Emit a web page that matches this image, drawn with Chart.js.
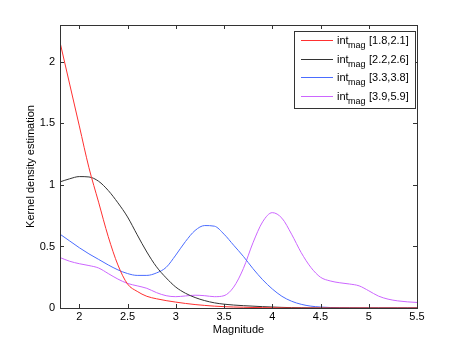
<!DOCTYPE html>
<html>
<head>
<meta charset="utf-8">
<script src="https://cdn.jsdelivr.net/npm/chart.js@4"></script>
<style>
  html, body { margin: 0; padding: 0; background: #fff; }
</style>
</head>
<body>
<canvas id="kde" width="460" height="346"></canvas>
<script>
// magnitude grid (every 0.1)
const mags = [1.8, 1.9, 2.0, 2.1, 2.2, 2.3, 2.4, 2.5, 2.6, 2.7, 2.8, 2.9, 3.0, 3.1, 3.2, 3.3, 3.4, 3.5, 3.6,
  3.7, 3.8, 3.9, 4.0, 4.1, 4.2, 4.3, 4.4, 4.5, 4.6, 4.7, 4.8, 4.9, 5.0, 5.1, 5.2, 5.3, 5.4, 5.5];

const kde1 = [2.16, 1.82, 1.48, 1.14, 0.86, 0.58, 0.35, 0.195, 0.135, 0.095, 0.075, 0.06, 0.048, 0.037, 0.028,
  0.021, 0.015, 0.011, 0.008, 0.006, 0.004, 0.003, 0.002, 0.001, 0, 0, 0, 0, 0, 0, 0, 0, 0, 0, 0, 0, 0, 0];
const kde2 = [1.025, 1.05, 1.068, 1.065, 1.03, 0.955, 0.855, 0.74, 0.595, 0.455, 0.335, 0.245, 0.17, 0.12, 0.085,
  0.06, 0.042, 0.031, 0.024, 0.019, 0.015, 0.011, 0.008, 0.005, 0.003, 0.002, 0.001, 0, 0, 0, 0, 0, 0, 0, 0, 0, 0, 0];
const kde3 = [0.60, 0.545, 0.49, 0.44, 0.395, 0.35, 0.31, 0.28, 0.265, 0.265, 0.285, 0.33, 0.43, 0.54, 0.63,
  0.67, 0.665, 0.60, 0.51, 0.42, 0.32, 0.23, 0.155, 0.095, 0.055, 0.03, 0.015, 0.008, 0.004, 0.002, 0.001,
  0, 0, 0, 0, 0, 0, 0];
const kde4 = [0.41, 0.38, 0.36, 0.345, 0.325, 0.28, 0.235, 0.20, 0.18, 0.16, 0.125, 0.10, 0.092, 0.098, 0.104,
  0.10, 0.092, 0.10, 0.17, 0.32, 0.53, 0.70, 0.775, 0.73, 0.60, 0.45, 0.33, 0.25, 0.22, 0.205, 0.195, 0.18,
  0.14, 0.097, 0.072, 0.058, 0.05, 0.045];

const ranges = ["[1.8,2.1]", "[2.2,2.6]", "[3.3,3.8]", "[3.9,5.9]"];
const colors = ["#ff3030", "#333333", "#4a6cff", "#cc66ff"];
const xTicks = [2, 2.5, 3, 3.5, 4, 4.5, 5, 5.5];
const yTicks = [0, 0.5, 1, 1.5, 2];

const font = "Liberation Sans, Arial, Helvetica, sans-serif";

// box, inward ticks, axis titles and the subscript legend
const matlabAxes = {
  id: "matlabAxes",
  afterDraw(chart) {
    const { ctx, chartArea: a, scales: { x, y } } = chart;
    ctx.save();
    ctx.strokeStyle = "#333";
    ctx.lineWidth = 1;
    ctx.beginPath();
    xTicks.forEach(v => {
      const px = Math.round(x.getPixelForValue(v)) + 0.5;
      ctx.moveTo(px, a.bottom); ctx.lineTo(px, a.bottom - 4);
      ctx.moveTo(px, a.top); ctx.lineTo(px, a.top + 4);
    });
    yTicks.forEach(v => {
      const py = Math.round(y.getPixelForValue(v)) + 0.5;
      ctx.moveTo(a.left, py); ctx.lineTo(a.left + 4, py);
      ctx.moveTo(a.right, py); ctx.lineTo(a.right - 4, py);
    });
    ctx.stroke();
    ctx.strokeRect(Math.round(a.left) + 0.5, Math.round(a.top) + 0.5,
      Math.round(a.right - a.left), Math.round(a.bottom - a.top));

    ctx.fillStyle = "#000";
    ctx.font = "11px " + font;
    ctx.textAlign = "center";
    ctx.textBaseline = "middle";
    ctx.fillText("Magnitude", (a.left + a.right) / 2, 330);
    ctx.save();
    ctx.translate(31, (a.top + a.bottom) / 2);
    ctx.rotate(-Math.PI / 2);
    ctx.fillText("Kernel density estimation", 0, 0);
    ctx.restore();

    // legend
    const lx = 294, ly = 31, lw = 121, lh = 77;
    ctx.fillStyle = "#fff";
    ctx.fillRect(lx, ly, lw, lh);
    ctx.strokeStyle = "#333";
    ctx.strokeRect(lx + 0.5, ly + 0.5, lw, lh);
    ctx.textAlign = "left";
    ctx.textBaseline = "alphabetic";
    ranges.forEach((r, i) => {
      const cy = 40 + i * 18.7;
      ctx.strokeStyle = colors[i];
      ctx.beginPath();
      ctx.moveTo(301, Math.round(cy) + 0.5);
      ctx.lineTo(333, Math.round(cy) + 0.5);
      ctx.stroke();
      ctx.fillStyle = "#000";
      ctx.font = "11px " + font;
      ctx.fillText("int", 337, cy + 4);
      ctx.font = "9px " + font;
      ctx.fillText("mag", 348, cy + 8);
      ctx.font = "11px " + font;
      ctx.fillText(r, 369, cy + 4);
    });
    ctx.restore();
  }
};

const series = [kde1, kde2, kde3, kde4];

new Chart(document.getElementById("kde"), {
  type: "line",
  data: {
    datasets: series.map((s, i) => ({
      label: ranges[i],
      data: mags.map((m, j) => ({ x: m, y: s[j] })),
      borderColor: colors[i],
      borderWidth: 1,
      pointRadius: 0,
      fill: false,
      cubicInterpolationMode: "monotone"
    }))
  },
  options: {
    responsive: false,
    animation: false,
    layout: { padding: { top: 25, right: 43, left: 0, bottom: 0 } },
    plugins: { legend: { display: false }, tooltip: { enabled: false } },
    scales: {
      x: {
        type: "linear",
        min: 1.8,
        max: 5.5,
        grid: { display: false, drawTicks: false },
        border: { display: false },
        afterBuildTicks: s => { s.ticks = xTicks.map(v => ({ value: v })); },
        afterFit: s => { s.height = 38; },
        ticks: { color: "#000", padding: 2, maxRotation: 0, callback: v => String(v),
          font: { family: font, size: 11 } }
      },
      y: {
        min: 0,
        max: 2.3,
        grid: { display: false, drawTicks: false },
        border: { display: false },
        afterBuildTicks: s => { s.ticks = yTicks.map(v => ({ value: v })); },
        afterFit: s => { s.width = 60; },
        ticks: { color: "#000", padding: 5, callback: v => String(v),
          font: { family: font, size: 11 } }
      }
    }
  },
  plugins: [matlabAxes]
});
</script>
</body>
</html>
